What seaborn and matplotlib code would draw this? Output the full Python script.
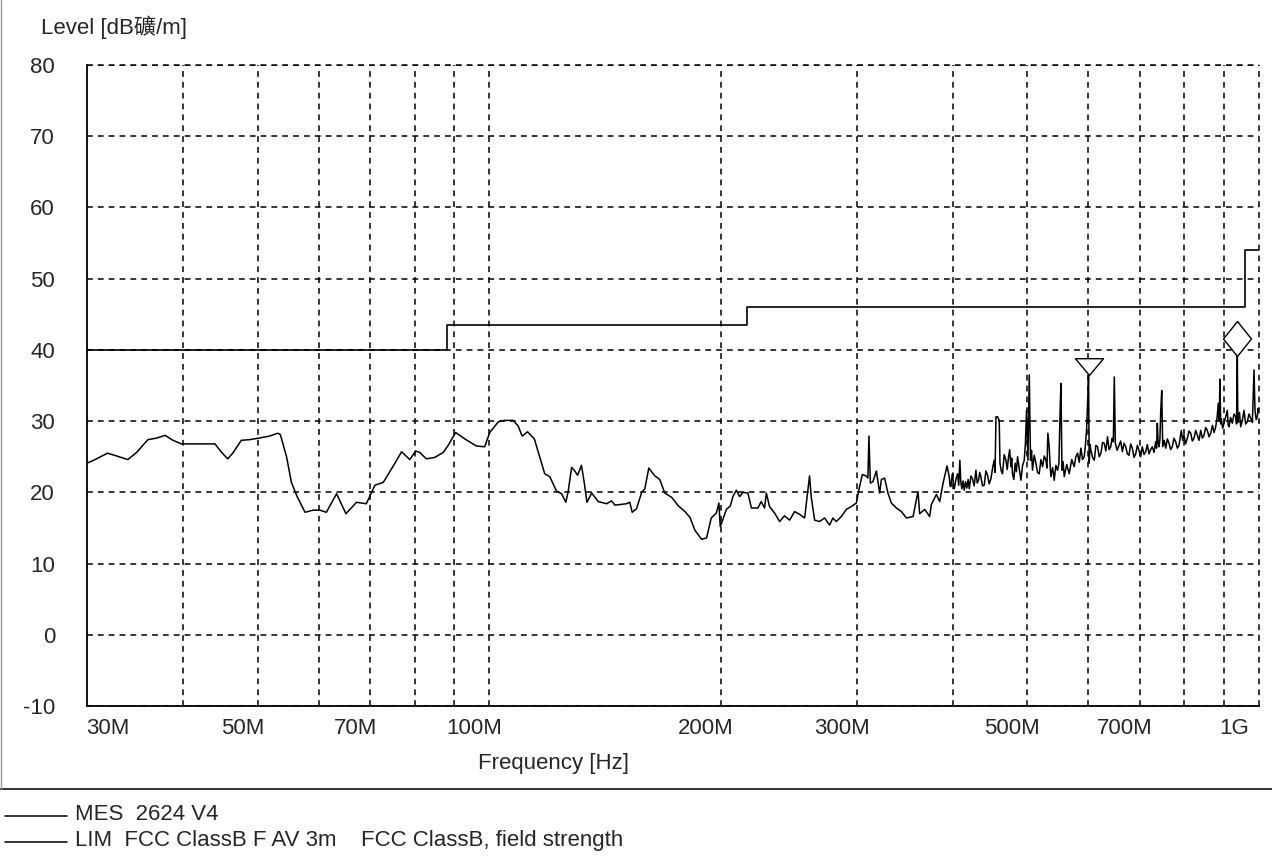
import numpy as np
import pandas as pd
import matplotlib
matplotlib.use("Agg")
import matplotlib.pyplot as plt
import matplotlib.transforms as mtransforms
from matplotlib.lines import Line2D
from matplotlib.path import Path
import seaborn as sns

# ---------------- data ----------------
# measured level (MES 2624 V4): frequency in MHz, level in dBuV/m
# 30 MHz .. 393 MHz
low_freq_mhz = [
    30.0, 30.6, 31.9, 32.8, 33.9, 34.8, 36.0, 36.9, 37.9, 38.8, 39.8, 44.0, 44.8, 45.7, 46.4,
    47.6, 48.8, 50.1, 51.8, 53.1, 53.5, 54.5, 55.3, 56.2, 57.6, 59.0, 60.2, 61.4, 63.3, 65.1,
    67.2, 69.2, 71.0, 72.8, 75.0,
    76.9, 78.8, 80.2, 81.2, 82.8, 84.9, 87.1, 88.4, 90.4, 92.9, 96.2, 98.6, 100.1, 102.7, 104.7,
    107.4, 109.0, 110.3, 112.1, 114.4, 116.3, 118.0, 119.8, 122.2, 124.1, 125.7, 126.6, 127.9,
    129.1, 130.2, 131.7, 132.8, 133.9, 135.8, 138.5, 142.0, 144.1, 145.6, 150.7, 152.2, 153.3,
    155.3, 157.7, 159.2, 161.1, 164.1, 166.5, 169.0, 172.5, 176.0, 179.5, 182.2, 184.9, 188.7,
    191.5,
    194.2, 197.2, 198.7, 199.5, 201.1, 203.2, 205.6, 207.2, 209.3, 211.4, 213.5, 216.7, 219.0,
    223.3, 225.5, 227.8, 229.0, 231.2, 234.7, 238.3, 241.8, 245.5, 249.2, 253.0, 256.8, 258.5,
    260.6, 261.9, 264.6, 268.6, 272.6, 276.7, 279.5, 282.3, 286.6, 290.9, 295.3, 299.8, 302.1,
    305.2, 308.8, 310.3, 311.3, 312.6, 315.0, 318.3, 321.4, 323.1, 326.2, 329.5, 332.9, 337.9,
    343.0, 348.2, 355.2, 360.5, 362.3, 367.8, 373.3, 375.2, 380.9, 384.7, 388.6, 393.2,
]
low_level = [
    24.1, 24.5, 25.5, 25.1, 24.6, 25.6, 27.4, 27.6, 28.0, 27.3, 26.8, 26.8, 25.7, 24.7, 25.5,
    27.3, 27.4, 27.6, 27.9, 28.3, 28.1, 25.0, 21.4, 19.5, 17.2, 17.5, 17.5, 17.2, 19.8, 17.0,
    18.6, 18.4, 21.0, 21.4, 23.7,
    25.7, 24.6, 25.8, 25.6, 24.7, 24.9, 25.6, 26.6, 28.4, 27.5, 26.5, 26.4, 28.4, 29.9, 30.1,
    30.1, 29.3, 27.9, 28.5, 27.5, 24.9, 22.6, 22.2, 20.2, 19.8, 18.6, 20.2, 23.5,
    23.0, 22.4, 23.8, 21.4, 18.6, 19.9, 18.7, 18.4, 18.8, 18.2, 18.4, 18.6, 17.2,
    17.7, 20.0, 20.5, 23.4, 22.3, 21.8, 19.9, 19.3, 18.1, 17.3, 16.5, 14.7, 13.4,
    13.6,
    16.4, 17.1, 18.5, 15.2, 16.2, 17.6, 18.1, 19.4, 20.3, 19.4, 20.0, 19.9, 17.8,
    17.8, 18.7, 17.8, 19.9, 18.0, 17.1, 15.9, 16.7, 16.1, 17.3, 16.9, 16.4, 19.0,
    22.3, 19.4, 16.1, 15.9, 16.4, 15.4, 16.4, 15.9, 16.6, 17.6, 18.0, 18.5, 20.4,
    22.5, 22.3, 22.0, 27.9, 21.3, 21.5, 23.0, 19.9, 21.8, 22.0, 19.9, 18.5, 17.8,
    17.3, 16.4, 16.6, 20.1, 17.0, 17.6, 16.6, 18.3, 19.7, 18.7, 21.3, 23.7,
]
# 395 MHz .. 1 GHz (dense, noisy band with spikes)
high_freq_mhz = [
    395.8, 396.8, 397.8, 398.7, 399.7, 400.8, 401.8, 403.8, 405.8, 407.2, 408.6, 409.8, 411.1,
    412.5, 414.0, 415.6, 417.2, 418.8, 420.3, 422.3, 424.3, 426.5, 428.7, 430.4, 432.1, 433.6,
    435.1, 437.3, 439.5, 441.7, 443.9, 446.1, 448.4, 450.6, 452.8, 454.0, 455.2, 457.4, 459.7,
    460.7, 462.5, 464.2, 466.6, 469.0, 470.8, 472.7, 474.3, 476.0, 477.2, 478.3, 480.2, 482.2,
    483.9, 485.6, 488.0, 490.5, 493.0, 495.4, 497.1, 498.8, 500.9, 502.9, 504.8, 506.3, 507.8,
    510.4, 513.0, 515.5, 518.1, 520.7, 523.3, 526.0, 528.7, 530.2, 531.7, 533.8, 535.2, 536.6,
    539.3, 541.9, 544.6, 547.3, 549.5, 551.7, 552.9, 554.6, 556.5, 558.4, 562.6, 566.8, 571.0,
    575.3, 578.2, 581.1, 584.0, 586.9, 589.8, 592.8, 594.8, 596.9, 599.5, 600.5, 601.7, 603.2,
    604.8, 607.8, 610.9, 613.9, 616.9, 620.0, 623.2, 626.2, 629.3, 632.4, 635.6, 638.6,
    641.7, 644.2, 646.7, 648.6, 650.6, 654.2, 657.8, 661.1, 664.4, 667.8, 671.2, 674.5, 677.8,
    681.1, 684.5, 688.0, 691.5, 695.0, 698.4, 701.8, 705.3, 708.9, 712.5, 716.0, 719.6, 723.1,
    726.7, 730.5, 734.2, 736.0, 737.7, 739.6, 741.5, 743.4, 745.2, 747.5, 749.7, 753.1, 756.5,
    760.2, 764.0, 767.7, 771.5, 775.4, 779.4, 783.3, 787.2, 789.9, 792.6, 795.8, 799.0, 803.0,
    807.0, 811.1, 815.2, 819.2, 823.3, 827.4, 831.5, 835.7, 840.0, 844.1, 848.3, 852.5, 856.7,
    861.1, 865.5, 870.0, 874.2, 878.5, 882.0, 885.4, 887.6, 889.9, 891.6, 893.3, 897.0, 900.6,
    905.0, 909.5, 911.8, 914.2, 918.7, 923.2, 928.0, 932.7, 935.0, 937.2, 938.6, 940.0, 943.3,
    946.7, 951.4, 956.1, 960.8, 965.6, 970.5, 975.5, 980.3, 985.2, 988.1, 991.5, 994.9, 997.4,
    1000.0,
]
high_level = [
    22.2, 20.9, 20.8, 21.9, 22.6, 21.2, 20.5, 21.8, 22.6, 21.0, 24.5, 21.4, 20.5,
    21.6, 20.3, 21.5, 20.6, 21.8, 20.5, 22.3, 21.9, 20.9, 23.1, 21.3, 21.7, 22.8,
    22.2, 20.9, 21.0, 23.0, 22.4, 21.2, 21.9, 23.4, 24.5, 22.8, 30.6, 30.6, 30.1,
    24.1, 23.0, 22.6, 25.3, 24.5, 23.2, 25.0, 26.0, 23.6, 24.8, 22.6, 21.8, 24.1,
    22.9, 25.0, 23.4, 21.7, 23.8, 24.5, 26.8, 31.5, 24.5, 36.5, 24.5, 25.9, 23.1,
    25.2, 24.1, 22.8, 22.6, 24.6, 23.6, 25.1, 24.5, 23.4, 28.3, 26.4, 23.9, 22.2,
    23.5, 21.7, 23.8, 23.1, 24.0, 32.0, 35.3, 23.1, 24.3, 22.2, 23.9, 22.6, 24.6,
    23.6, 25.0, 25.5, 24.2, 26.2, 24.6, 25.0, 26.5, 28.7, 33.9, 36.5, 24.1, 26.7,
    25.9, 24.9, 24.5, 26.6, 26.4, 25.0, 25.5, 27.0, 26.9, 25.8, 27.8, 26.0,
    26.4, 27.6, 27.1, 36.2, 26.9, 25.9, 26.6, 27.2, 25.7, 26.9, 26.4, 25.4, 25.2,
    26.8, 26.2, 24.9, 25.4, 26.6, 25.9, 25.0, 26.4, 25.3, 25.7, 26.7, 25.4, 26.0,
    26.4, 25.6, 27.1, 26.2, 29.7, 26.9, 26.4, 27.4, 31.3, 34.3, 26.4, 27.3, 26.2,
    27.5, 26.9, 26.0, 26.4, 27.6, 27.1, 26.2, 26.6, 27.7, 28.7, 27.3, 28.0, 26.8,
    27.6, 28.6, 28.3, 27.2, 27.6, 28.7, 28.0, 27.3, 28.7, 27.6, 28.0, 29.1, 28.7,
    27.8, 28.3, 29.4, 28.4, 29.2, 30.4, 32.5, 30.0, 35.9, 29.6, 30.3, 29.0, 29.7,
    30.6, 31.5, 29.5, 29.2, 30.5, 29.7, 31.0, 30.6, 29.6, 39.2, 29.8, 30.3, 31.2,
    29.2, 30.1, 31.5, 29.6, 29.9, 31.0, 30.4, 29.8, 37.2, 31.5, 30.2, 30.6, 31.8,
    31.2,
]

# limit line (LIM FCC ClassB F AV 3m), step-wise
limit_freq_mhz = [30.0, 88.0, 216.0, 960.0, 1000.0]
limit_level = [40.0, 43.5, 46.0, 54.0, 54.0]

# peak markers (triangle, diamond)
peak_freq_mhz = [600.5, 937.2]
peak_level = [36.5, 39.2]

# axis ticks
x_tick_mhz = [30, 50, 70, 100, 200, 300, 500, 700, 1000]
x_tick_labels = ["30M", "50M", "70M", "100M", "200M", "300M", "500M", "700M", "1G"]
x_grid_mhz = [40, 50, 60, 70, 80, 90, 100, 200, 300, 400, 500, 600, 700, 800, 900]
y_ticks = [-10, 0, 10, 20, 30, 40, 50, 60, 70, 80]

legend_rows = ["MES  2624 V4",
               "LIM  FCC ClassB F AV 3m    FCC ClassB, field strength"]
title_text = "Level [dB礦/m]"
xlabel_text = "Frequency [Hz]"

# ---------------- style ----------------
sns.set_style("white")
plt.rcParams["font.family"] = ["Liberation Sans", "Noto Sans CJK SC", "DejaVu Sans"]
plt.rcParams["font.size"] = 16
plt.rcParams["axes.unicode_minus"] = False

W, H = 1272, 865
fig = plt.figure(figsize=(W / 100, H / 100), dpi=100)
ax = fig.add_axes([87 / W, (H - 706) / H, (1259 - 87) / W, (706 - 65) / H])
ax.set_xscale("log")

meas_df = pd.DataFrame({
    "freq": np.array(low_freq_mhz + high_freq_mhz) * 1e6,
    "level": low_level + high_level,
})
lim_df = pd.DataFrame({"freq": np.array(limit_freq_mhz) * 1e6, "level": limit_level})

sns.lineplot(data=lim_df, x="freq", y="level", ax=ax, estimator=None, sort=False,
             color="black", lw=1.2, drawstyle="steps-post")
sns.lineplot(data=meas_df, x="freq", y="level", ax=ax, estimator=None, sort=False,
             color="black", lw=1.1)

# markers: triangle (tip at peak) and diamond (bottom tip at peak)
tri = Path([(0, 0), (-1, 1.2), (1, 1.2), (0, 0)], closed=True)
dia = Path([(0, 0), (0.8, 1.0), (0, 2.0), (-0.8, 1.0), (0, 0)], closed=True)
ax.plot([peak_freq_mhz[0] * 1e6], [peak_level[0]], marker=tri, ms=24.2, mfc="white",
        mec="black", mew=1.0, ls="none", clip_on=False, zorder=5)
ax.plot([peak_freq_mhz[1] * 1e6], [peak_level[1]], marker=dia, ms=50.4, mfc="white",
        mec="black", mew=1.0, ls="none", clip_on=False, zorder=5)

ax.set_xlim(30e6, 1e9)
ax.set_ylim(-10, 80)
ax.set_xlabel("")
ax.set_ylabel("")

dash = (0, (3.8, 3.3))
ax.set_xticks([f * 1e6 for f in x_grid_mhz])
ax.set_xticks([], minor=True)
ax.set_xticklabels([])
ax.set_yticks(y_ticks)
ax.set_yticklabels([str(v) for v in y_ticks])
ax.tick_params(axis="both", length=0)
ax.tick_params(axis="y", pad=23, labelsize=16)
ax.grid(True, axis="both", color="black", lw=1.1, linestyle=dash)
ax.axvline(1e9, color="black", lw=1.1, linestyle=dash, clip_on=False)
ax.axhline(80, color="black", lw=1.1, linestyle=dash, clip_on=False)

for s in ["top", "right"]:
    ax.spines[s].set_visible(False)
for s in ["left", "bottom"]:
    ax.spines[s].set_color("black")
    ax.spines[s].set_linewidth(1.3)

# x tick labels, drawn slightly left of their gridlines like the original
offsets_px = {"30M": 21, "1G": -25}
blend = mtransforms.blended_transform_factory(ax.transData, ax.transAxes)
for f, lab in zip(x_tick_mhz, x_tick_labels):
    dx = offsets_px.get(lab, -15) / 100.0
    tr = blend + mtransforms.ScaledTranslation(dx, -0.23, fig.dpi_scale_trans)
    ax.text(f * 1e6, 0, lab, transform=tr, ha="center", va="center", fontsize=16)

# texts outside the axes
fig.text(41 / W, 1 - 27 / H, title_text, ha="left", va="center", fontsize=16)
fig.text(553 / W, 1 - 763 / H, xlabel_text, ha="center", va="center", fontsize=16)

# frame lines
fig.add_artist(Line2D([0, 1], [1 - 789 / H] * 2, transform=fig.transFigure,
                      color="#333333", lw=1.4))
fig.add_artist(Line2D([0.6 / W] * 2, [1 - 789 / H, 1], transform=fig.transFigure,
                      color="#999999", lw=1.0))

# legend rows
for i, txt in enumerate(legend_rows):
    yy = 1 - (816 + 26 * i) / H
    fig.add_artist(Line2D([5 / W, 67 / W], [yy, yy], transform=fig.transFigure,
                          color="black", lw=1.1))
    fig.text(75 / W, yy + 1.5 / H, txt, ha="left", va="center", fontsize=16)

fig.savefig("out.png", dpi=100, facecolor="white")
